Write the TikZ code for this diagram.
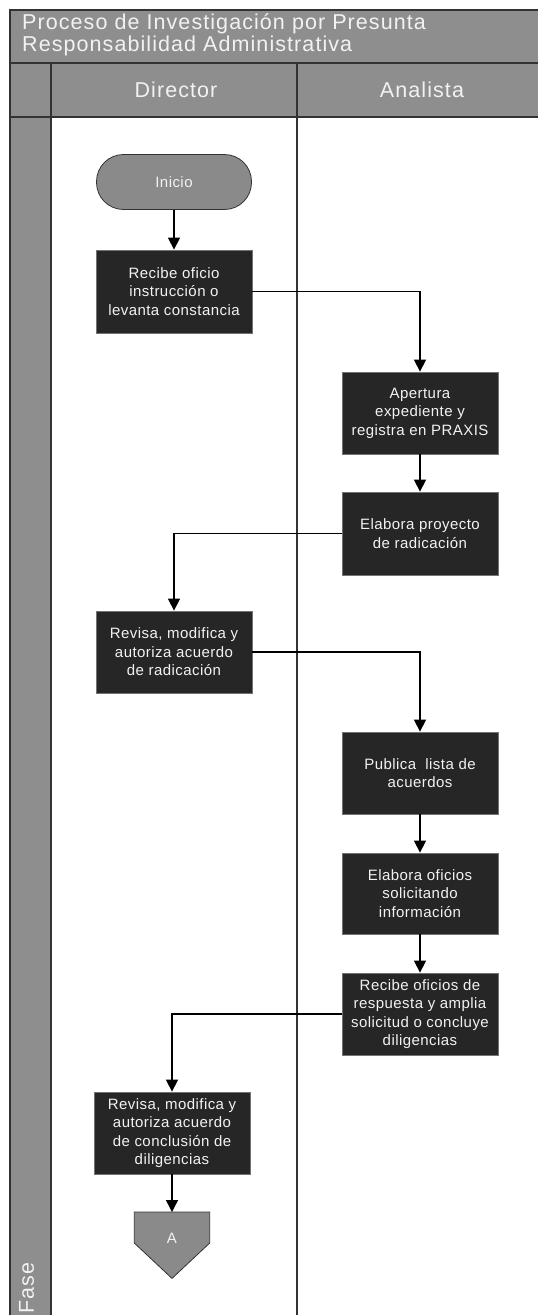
\documentclass[tikz,border=0pt]{standalone}
\usepackage{fontspec}
\setmainfont{Liberation Sans}
\usetikzlibrary{arrows.meta,calc}
\definecolor{band}{HTML}{8E8E8E}
\definecolor{boxfill}{HTML}{262626}
\definecolor{termfill}{HTML}{8A8A8A}
\definecolor{lineg}{HTML}{333333}
\definecolor{txtw}{HTML}{F2F2F2}
\pgfdeclarelayer{bg}
\pgfdeclarelayer{shp}
\pgfsetlayers{bg,shp,main}
\newcommand{\boxfnt}{\fontsize{15}{18.5}\selectfont\addfontfeature{LetterSpace=3}}
\newcommand{\headfnt}{\fontsize{21.5}{20}\selectfont\addfontfeature{LetterSpace=5}}
\tikzset{
  headtxt/.style={text=txtw, font=\headfnt, inner sep=0pt},
  proc/.style={draw=black!55, line width=0.8pt, fill=boxfill, text=txtw,
    minimum width=156pt, minimum height=82pt, align=center, font=\boxfnt, inner sep=2pt},
  term/.style={draw=lineg, line width=0.8pt, fill=termfill, text=txtw,
    minimum width=155pt, minimum height=55pt, rounded corners=27pt, font=\boxfnt},
  conn/.style={minimum width=75pt, minimum height=66pt, inner sep=0pt,
    text height=10pt, text depth=14pt, text=txtw, font=\boxfnt},
  arr/.style={-{Triangle[length=12pt,width=12pt]}, line width=1.4pt, black},
  frameline/.style={draw=lineg, line width=1.1pt}
}
\begin{document}
\begin{tikzpicture}[x=1pt,y=-1pt]
\useasboundingbox (0,0) rectangle (538,1315);
\begin{pgfonlayer}{bg}
  \clip (0,0) rectangle (538,1315);
  \fill[white] (0,0) rectangle (538,1315);
  \fill[band] (10,10) rectangle (548,117);
  \fill[band] (10,117) rectangle (51,1320);
  \draw[frameline] (548,10) -- (10,10) -- (10,1320);
  \draw[frameline] (10,63) -- (548,63);
  \draw[frameline] (10,117) -- (548,117);
  \draw[frameline] (51,63) -- (51,1320);
  \draw[frameline] (297,63) -- (297,1320);
\end{pgfonlayer}

\node[headtxt, anchor=base west, align=left] (title) at (22,51)
  {Proceso de Investigación por Presunta\\Responsabilidad Administrativa};
\node[headtxt, anchor=base] (dir) at (176,97) {Director};
\node[headtxt, anchor=base] (ana) at (422,97) {Analista};
\node[headtxt, rotate=90, anchor=base east] (fase) at (34,1262) {Fase};

\node[term] (ini) at (174,182) {Inicio};
\node[proc, minimum height=83pt] (b1) at (174,291.5) {Recibe oficio\\instrucción o\\levanta constancia};
\node[proc] (b2) at (420,413) {Apertura\\expediente y\\registra en PRAXIS};
\node[proc, minimum height=83pt] (b3) at (420,533.5) {Elabora proyecto\\de radicación};
\node[proc] (b4) at (174,652) {Revisa, modifica y\\autoriza acuerdo\\de radicación};
\node[proc] (b5) at (420,773) {Publica\ \ lista de\\acuerdos};
\node[proc, minimum height=81pt] (b6) at (420,893.5) {Elabora oficios\\solicitando\\información};
\node[proc] (b7) at (420,1014) {Recibe oficios de\\respuesta y amplia\\solicitud o concluye\\diligencias};
\node[proc] (b8) at (172,1133) {Revisa, modifica y\\autoriza acuerdo\\de conclusión de\\diligencias};
\node[conn, anchor=north] (A) at (172,1212) {A};
\begin{pgfonlayer}{shp}
  \filldraw[fill=termfill, draw=lineg, line width=0.8pt]
    (A.north west) -- (A.north east) -- ($(A.north east)+(0,31)$) -- (A.south)
    -- ($(A.north west)+(0,31)$) -- cycle;
\end{pgfonlayer}

\draw[arr] (ini.south) -- (b1.north);
\draw[arr] (b1.east) -| (b2.north);
\draw[arr] (b2.south) -- (b3.north);
\draw[arr] (b3.west) -| (b4.north);
\draw[arr] (b4.east) -| (b5.north);
\draw[arr] (b5.south) -- (b6.north);
\draw[arr] (b6.south) -- (b7.north);
\draw[arr] (b7.west) -| (b8.north);
\draw[arr] (b8.south) -- (A.north);
\end{tikzpicture}
\end{document}
